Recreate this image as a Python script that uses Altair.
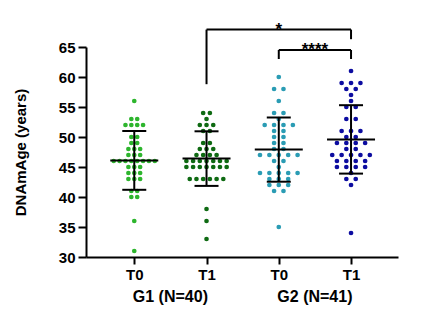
import altair as alt
import pandas as pd
from collections import Counter

# ---------------- data ----------------
categories = ["G1 T0", "G1 T1", "G2 T0", "G2 T1"]
tick_labels = ["T0", "T1", "T0", "T1"]
group_labels = ["G1 (N=40)", "G2 (N=41)"]
group_members = [[0, 1], [2, 3]]
colors = ["#2db52d", "#0e6a12", "#2a9cb4", "#0c0ca0"]
y_ticks = [30, 35, 40, 45, 50, 55, 60, 65]

g1_t0 = [56, 53, 53, 52, 52, 52, 52, 50, 50, 49, 49, 48, 48, 48, 47, 47, 47,
         46, 46, 46, 46, 46, 46, 46, 46, 45, 45, 45, 44, 44, 44, 43, 43, 43,
         41, 41, 40, 40, 36, 31]
g1_t1 = [54, 54, 53, 52, 52, 52, 51, 51, 49, 49, 48, 48, 48, 47, 47, 47, 47,
         46, 46, 46, 46, 46, 46, 46, 45, 45, 45, 45, 45, 45, 45,
         43, 43, 43, 43, 43, 43, 38, 36, 33]
g2_t0 = [60, 58, 58, 56, 54, 54, 53, 52, 52, 52, 52, 51, 51, 50, 50, 49, 49,
         48, 48, 47, 47, 47, 47, 47, 46, 46, 45, 44, 44, 44, 44, 44,
         43, 43, 43, 42, 42, 42, 41, 41, 35]
g2_t1 = [61, 59, 59, 59, 58, 58, 57, 56, 55, 55, 53, 53, 51, 51, 51, 50, 50,
         49, 49, 49, 49, 48, 48, 47, 47, 47, 47, 47, 46, 46, 46, 46,
         45, 45, 45, 45, 44, 43, 43, 42, 34]
series = [g1_t0, g1_t1, g2_t0, g2_t1]

means = [46.1, 46.4, 47.9, 49.6]
sds = [4.9, 4.55, 5.35, 5.7]

# significance brackets: (from category, to category, label)
brackets = [(1, 3, "*"), (2, 3, "****")]
bracket_levels = [67.9, 64.5]        # y of the horizontal bar (data units)
bracket_left_ends = [58.8, 63.0]     # lower end of left leg
bracket_right_ends = [66.3, 63.0]    # lower end of right leg

# ---------------- layout / style ----------------
W, H = 312, 210
X_DOM = [-0.668, 3.65]
Y_DOM = [30, 65]
px_per_unit = W / (X_DOM[1] - X_DOM[0])
DOT_PITCH = 9.4      # px between dots in a row
COL_WIDTH = 47       # px max swarm width
MEAN_HALF = 24       # px
CAP_HALF = 12        # px
FONT = "Liberation Sans"

# beeswarm offsets (computed layout)
rows = []
for gi, vals in enumerate(series):
    cnt = Counter(vals)
    maxk = max(cnt.values())
    pitch = min(DOT_PITCH, COL_WIDTH / maxk) / px_per_unit
    seen = Counter()
    for v in vals:
        k = cnt[v]
        j = seen[v]
        seen[v] += 1
        rows.append({"cat": categories[gi], "idx": gi, "value": v,
                     "xpos": gi + (j - (k - 1) / 2) * pitch})
dots = pd.DataFrame(rows)

summ = pd.DataFrame({"cat": categories, "idx": range(4), "mean": means, "sd": sds})

xscale = alt.Scale(domain=X_DOM, nice=False, zero=False)
yscale = alt.Scale(domain=Y_DOM, nice=False, zero=False)

label_expr = "[" + ",".join(f"'{t}'" for t in tick_labels) + "][datum.value]"

x_axis = alt.Axis(values=[0, 1, 2, 3], labelExpr=label_expr, title=None, grid=False,
                  domainColor="black", domainWidth=2, tickColor="black", tickWidth=2,
                  tickSize=7, labelFont=FONT, labelFontSize=15, labelFontWeight="bold",
                  labelColor="black", labelPadding=3, labelOverlap=False)
y_axis = alt.Axis(values=y_ticks, title="DNAmAge (years)", grid=False,
                  domainColor="black", domainWidth=2, tickColor="black", tickWidth=2,
                  tickSize=8, labelFont=FONT, labelFontSize=15, labelFontWeight="bold",
                  labelColor="black", labelPadding=3, labelOverlap=False,
                  titleFont=FONT, titleFontSize=15,
                  titleFontWeight="bold", titleColor="black", titleX=-58, titleY=H / 2,
                  titleAngle=-90, titleBaseline="bottom", titleAlign="center")


def X(f):
    return alt.X(f, scale=xscale, axis=x_axis)


def Y(f):
    return alt.Y(f, scale=yscale, axis=y_axis)


points = alt.Chart(dots).mark_circle(size=22, opacity=1).encode(
    x=X("xpos:Q"),
    y=Y("value:Q"),
    color=alt.Color("cat:N", scale=alt.Scale(domain=categories, range=colors), legend=None),
)

base = alt.Chart(summ).transform_calculate(
    lo="datum.mean - datum.sd",
    hi="datum.mean + datum.sd",
    mx1=f"datum.idx - {MEAN_HALF / px_per_unit}",
    mx2=f"datum.idx + {MEAN_HALF / px_per_unit}",
    cx1=f"datum.idx - {CAP_HALF / px_per_unit}",
    cx2=f"datum.idx + {CAP_HALF / px_per_unit}",
)
sd_line = base.mark_rule(color="black", strokeWidth=2).encode(
    x=X("idx:Q"), y=Y("lo:Q"), y2="hi:Q")
mean_line = base.mark_rule(color="black", strokeWidth=2).encode(
    x=X("mx1:Q"), x2="mx2:Q", y=Y("mean:Q"))
cap_hi = base.mark_rule(color="black", strokeWidth=2).encode(
    x=X("cx1:Q"), x2="cx2:Q", y=Y("hi:Q"))
cap_lo = base.mark_rule(color="black", strokeWidth=2).encode(
    x=X("cx1:Q"), x2="cx2:Q", y=Y("lo:Q"))

# brackets
br = pd.DataFrame({
    "a": [b[0] for b in brackets], "b": [b[1] for b in brackets],
    "label": [b[2] for b in brackets], "lvl": bracket_levels,
    "lend": bracket_left_ends, "rend": bracket_right_ends,
})
br_base = alt.Chart(br).transform_calculate(mid="(datum.a + datum.b) / 2")
br_h = br_base.mark_rule(color="black", strokeWidth=2).encode(
    x=X("a:Q"), x2="b:Q", y=Y("lvl:Q"))
br_l = br_base.mark_rule(color="black", strokeWidth=2).encode(
    x=X("a:Q"), y=Y("lvl:Q"), y2="lend:Q")
br_r = br_base.mark_rule(color="black", strokeWidth=2).encode(
    x=X("b:Q"), y=Y("lvl:Q"), y2="rend:Q")
br_t = br_base.mark_text(font=FONT, fontSize=17, fontWeight="bold", color="black",
                         baseline="alphabetic", dy=5).encode(
    x=X("mid:Q"), y=Y("lvl:Q"), text="label:N")

# group labels under the axis
gl = pd.DataFrame({"label": group_labels,
                   "gx": [sum(m) / len(m) for m in group_members]})
grp_text = alt.Chart(gl).mark_text(font=FONT, fontSize=16, fontWeight="bold",
                                   color="black", baseline="middle").encode(
    x=X("gx:Q"), y=alt.value(H + 40), text="label:N")

chart = alt.layer(points, sd_line, mean_line, cap_hi, cap_lo,
                  br_h, br_l, br_r, br_t, grp_text).properties(
    width=W, height=H,
    autosize=alt.AutoSizeParams(type="none"),
    padding={"left": 86, "top": 47, "right": 30, "bottom": 68},
    background="white",
).configure_view(stroke=None)

chart.save("out.html", embed_options={"renderer": "svg", "actions": False})
